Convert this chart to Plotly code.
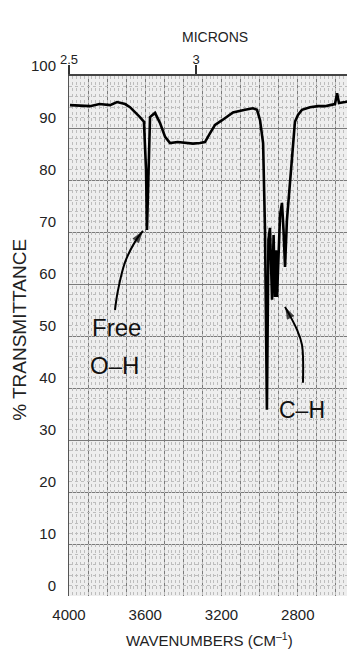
import plotly.graph_objects as go

# ---- data ----
wavenumber = [3995, 3890, 3840, 3785, 3748, 3706, 3680, 3654, 3628, 3607, 3596, 3591, 3583,
              3575, 3549, 3523, 3496, 3470, 3430, 3392, 3350, 3313, 3287, 3260, 3234, 3197,
              3140, 3077, 3035, 3014, 2998, 2982, 2972, 2962, 2954, 2946, 2935, 2927, 2920,
              2914, 2909, 2893, 2883, 2875, 2867, 2857, 2846, 2830, 2815, 2799, 2778, 2757,
              2736, 2694, 2657, 2631, 2605, 2594, 2584, 2552, 2526, 2500]
transmittance = [94.4, 94.2, 94.6, 94.4, 95.0, 94.6, 94.0, 93.1, 92.1, 91.2, 82.0, 70.4, 80.0,
                 92.1, 92.9, 91.0, 88.3, 87.1, 87.3, 87.1, 87.0, 87.1, 87.3, 89.0, 90.6, 91.5,
                 93.0, 93.5, 93.8, 93.5, 91.5, 87.1, 70.4, 35.8, 68.5, 70.8, 57.0, 69.4, 57.5,
                 66.5, 57.5, 73.3, 75.6, 70.4, 63.3, 72.3, 78.0, 84.4, 91.2, 92.5, 93.5, 93.8,
                 94.0, 94.2, 94.2, 94.4, 94.6, 96.7, 94.8, 95.0, 95.2, 95.4]

x_tick_vals = [4000, 3600, 3200, 2800]
x_tick_text = ["4000", "3600", "3200", "2800"]
y_tick_vals = [0, 10, 20, 30, 40, 50, 60, 70, 80, 90, 100]
y_tick_text = ["0", "10", "20", "30", "40", "50", "60", "70", "80", "90", "100"]
micron_vals = [2.5, 3, 4]
micron_text = ["2.5", "3", "4"]

# annotation arrows (wavenumber, %T), tail -> tip
free_oh_arrow_x = [3759, 3743, 3706, 3654, 3612]
free_oh_arrow_y = [55.0, 58.8, 64.2, 68.1, 70.2]
ch_arrow_x = [2773, 2778, 2804, 2867]
ch_arrow_y = [41.0, 48.3, 51.2, 55.6]

FONT = "Liberation Sans, Arial, Helvetica, sans-serif"
MAJOR = "#7a7a7a"
FINE = "#bdbdbd"

fig = go.Figure()
fig.add_trace(go.Scatter(x=wavenumber, y=transmittance, mode="lines",
                         line=dict(color="black", width=2.6), showlegend=False,
                         hoverinfo="skip"))
for ax_x, ax_y in [(free_oh_arrow_x, free_oh_arrow_y), (ch_arrow_x, ch_arrow_y)]:
    n = len(ax_x)
    fig.add_trace(go.Scatter(
        x=ax_x, y=ax_y, mode="lines+markers",
        line=dict(color="black", width=2, shape="spline"),
        marker=dict(symbol="arrow", angleref="previous", color="black",
                    size=[0] * (n - 1) + [13], line=dict(width=0)),
        showlegend=False, hoverinfo="skip"))
# invisible traces on the top (micron) axis and the fine-grid axis
fig.add_trace(go.Scatter(x=[4000, 2500], y=[None, None], xaxis="x2", mode="lines",
                         showlegend=False, hoverinfo="skip"))
fig.add_trace(go.Scatter(x=[4000, 2500], y=[None, None], xaxis="x3", mode="lines",
                         showlegend=False, hoverinfo="skip"))

# page body has an 8px margin: figure is shifted by 8px right/down
fig.update_layout(
    width=347, height=646,
    margin=dict(l=61, r=0, t=68, b=58),
    paper_bgcolor="white", plot_bgcolor="#eeeeee",
    font=dict(family=FONT, color="#222"),
    xaxis=dict(range=[4000, 2500], tickvals=x_tick_vals, ticktext=x_tick_text,
               showgrid=True, gridcolor=MAJOR, gridwidth=1,
               minor=dict(tick0=2500, dtick=100, showgrid=True, gridcolor=MAJOR,
                          gridwidth=1),
               ticks="", tickfont=dict(size=15, family=FONT, color="#222"),
               ticklabelstandoff=8, zeroline=False, showline=False, automargin=False),
    xaxis3=dict(overlaying="x", range=[4000, 2500], tick0=2500, dtick=20,
                showticklabels=False, ticks="", showgrid=True, gridcolor=FINE,
                griddash="dot", zeroline=False, showline=False, automargin=False),
    xaxis2=dict(overlaying="x", side="top", range=[4000, 2500],
                tickvals=[1e4 / m for m in micron_vals], ticktext=micron_text,
                ticks="outside", ticklen=9, tickcolor="#333", tickwidth=1.5,
                tickfont=dict(size=13, family=FONT, color="#222"),
                ticklabelstandoff=-4,
                showline=True, linecolor="#444", linewidth=1.5, showgrid=False,
                zeroline=False, automargin=False),
    yaxis=dict(range=[0, 100], tickvals=y_tick_vals, ticktext=y_tick_text,
               showgrid=True, gridcolor=MAJOR, gridwidth=1,
               minor=dict(dtick=2, showgrid=True, gridcolor=FINE, griddash="dot"),
               ticks="", tickfont=dict(size=15, family=FONT, color="#222"),
               ticklabelposition="outside top",
               ticklabelstandoff=9, zeroline=False, automargin=False,
               showline=True, linecolor="#555", linewidth=1),
)

fig.add_annotation(x=3753, y=51.7, text="Free", showarrow=False,
                   font=dict(size=24, family=FONT, color="#111"))
fig.add_annotation(x=3759, y=44.4, text="O–H", showarrow=False,
                   font=dict(size=24, family=FONT, color="#111"))
fig.add_annotation(x=2778, y=35.8, text="C–H", showarrow=False,
                   font=dict(size=23, family=FONT, color="#111"))

fig.add_annotation(xref="paper", yref="paper", x=-0.171, y=0.512, text="% TRANSMITTANCE",
                   textangle=-90, showarrow=False, xanchor="center", yanchor="middle",
                   font=dict(size=19, family=FONT, color="#222"))
fig.add_annotation(xref="paper", yref="paper", x=0.493, y=-0.0846,
                   text="WAVENUMBERS (CM<sup>–1</sup>)", showarrow=False,
                   xanchor="center", yanchor="middle",
                   font=dict(size=15, family=FONT, color="#222"))
fig.add_annotation(xref="paper", yref="paper", x=0.51, y=1.075, text="MICRONS",
                   showarrow=False, xanchor="center", yanchor="middle",
                   font=dict(size=14, family=FONT, color="#222"))

fig.write_html("out.html")
